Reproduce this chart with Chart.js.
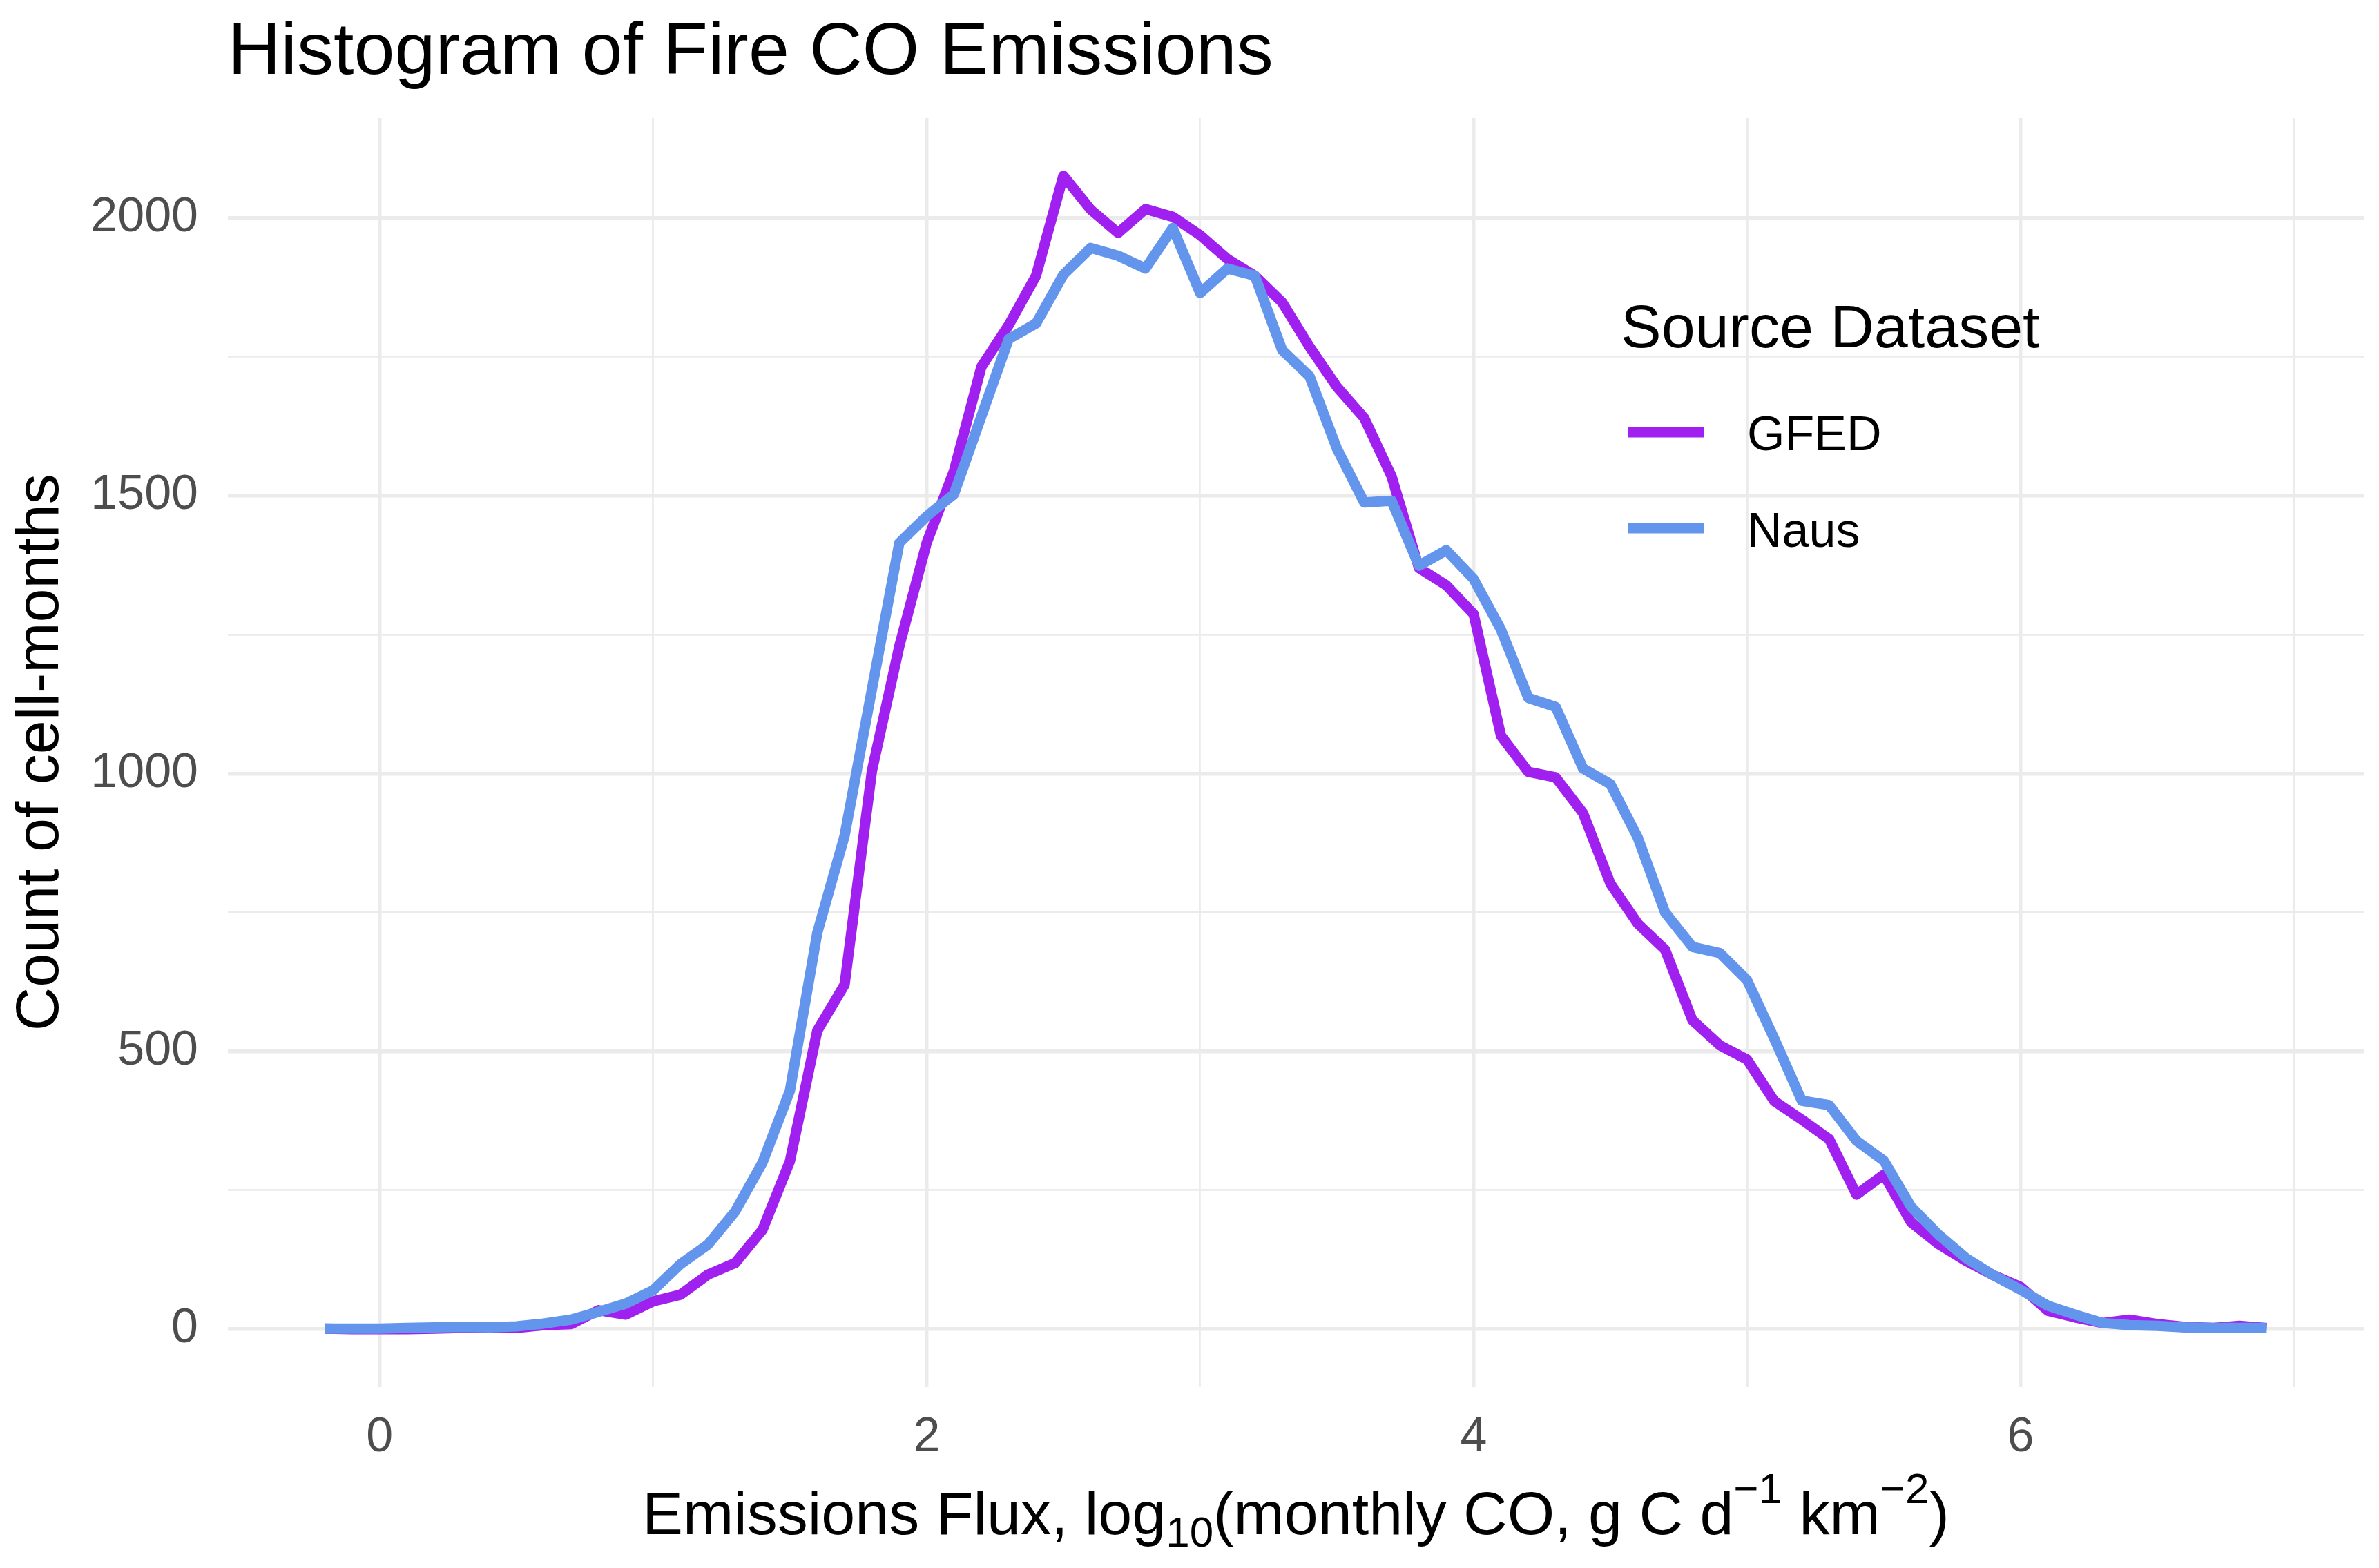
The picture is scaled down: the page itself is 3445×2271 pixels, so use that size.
<!DOCTYPE html>
<html>
<head>
<meta charset="utf-8">
<title>Histogram of Fire CO Emissions</title>
<script src="https://cdn.jsdelivr.net/npm/chart.js@4.4.1/dist/chart.umd.min.js"></script>
<style>
  html, body { margin: 0; padding: 0; background: #ffffff; }
  #wrap { width: 3445px; height: 2271px; }
</style>
</head>
<body>
<div id="wrap"><canvas id="fireHistogram" width="3445" height="2271"></canvas></div>
<script>
// bin centres, log10 flux (bin width 0.1)
const binCenters = [
  -0.2, -0.1, 0.0, 0.1, 0.2, 0.3, 0.4, 0.5, 0.6, 0.7, 0.8, 0.9,
  1.0, 1.1, 1.2, 1.3, 1.4, 1.5, 1.6, 1.7, 1.8, 1.9,
  2.0, 2.1, 2.2, 2.3, 2.4, 2.5, 2.6, 2.7, 2.8, 2.9,
  3.0, 3.1, 3.2, 3.3, 3.4, 3.5, 3.6, 3.7, 3.8, 3.9,
  4.0, 4.1, 4.2, 4.3, 4.4, 4.5, 4.6, 4.7, 4.8, 4.9,
  5.0, 5.1, 5.2, 5.3, 5.4, 5.5, 5.6, 5.7, 5.8, 5.9,
  6.0, 6.1, 6.2, 6.3, 6.4, 6.5, 6.6, 6.7, 6.8, 6.9,
];

const gfedCounts = [
  1, 0, 0, 0, 1, 2, 3, 2, 7, 9, 34, 26,
  50, 62, 98, 119, 179, 302, 537, 620, 1005, 1229,
  1415, 1545, 1732, 1807, 1896, 2076, 2015, 1973, 2016, 2002,
  1969, 1926, 1896, 1848, 1768, 1696, 1640, 1535, 1370, 1339,
  1287, 1068, 1003, 993, 929, 802, 730, 683, 556, 511,
  485, 410, 377, 342, 242, 278, 192, 153, 123, 97,
  76, 33, 21, 11, 17, 9, 4, 2, 6, 2,
];

const nausCounts = [
  1, 1, 1, 2, 3, 4, 3, 5, 10, 17, 31, 46,
  70, 117, 152, 212, 300, 429, 713, 888, 1152, 1415,
  1463, 1503, 1643, 1782, 1810, 1898, 1946, 1932, 1909, 1982,
  1865, 1909, 1896, 1762, 1715, 1585, 1488, 1491, 1374, 1402,
  1350, 1259, 1136, 1120, 1009, 981, 885, 750, 688, 677,
  628, 522, 411, 403, 339, 303, 220, 170, 128, 97,
  71, 42, 26, 11, 7, 6, 3, 2, 2, 2,
];

const seriesNames = ["GFED", "Naus"];
const seriesColors = ["#A020F0", "#6495ED"];

const xMajorTicks = [0, 2, 4, 6];
const xMinorTicks = [1, 3, 5, 7];
const yMajorTicks = [0, 500, 1000, 1500, 2000];
const yMinorTicks = [250, 750, 1250, 1750];

const chartTitle = "Histogram of Fire CO Emissions";
const yAxisTitle = "Count of cell-months";
const legendTitle = "Source Dataset";
const xAxisTitleParts = [
  { text: "Emissions Flux, log", shift: "base" },
  { text: "10", shift: "sub" },
  { text: "(monthly CO, g C d", shift: "base" },
  { text: "\u22121", shift: "sup" },
  { text: " km", shift: "base" },
  { text: "\u22122", shift: "sup" },
  { text: ")", shift: "base" },
];

const FONT = "'Liberation Sans', Arial, Helvetica, sans-serif";
const GRID_COLOR = "#EBEBEB";

/**
 * ============================================================================
 * Helper: line datasets from the bin arrays
 * ============================================================================
 */
function buildHistogramData() {
  const toPoints = counts => binCenters.map((x, i) => ({ x, y: counts[i] }));
  const seriesCounts = [gfedCounts, nausCounts];

  return {
    datasets: seriesNames.map((name, i) => ({
      label: name,
      data: toPoints(seriesCounts[i]),
      borderColor: seriesColors[i],
      backgroundColor: seriesColors[i],
      borderWidth: 15,
      borderJoinStyle: "round",
      borderCapStyle: "butt",
      pointRadius: 0,
      tension: 0,
      fill: false,
      order: seriesNames.length - i, // Naus drawn on top
    })),
  };
}

/**
 * ============================================================================
 * Plugin: title, x-axis title with sub/superscripts, legend
 * ============================================================================
 */
const annotationsPlugin = {
  id: "ggAnnotations",
  afterDraw(chart) {
    const { ctx, chartArea } = chart;
    ctx.save();
    ctx.fillStyle = "#000000";
    ctx.textAlign = "left";
    ctx.textBaseline = "alphabetic";

    // main title
    ctx.font = `106px ${FONT}`;
    ctx.fillText(chartTitle, chartArea.left, 107);

    // x-axis title
    const baseFont = `88px ${FONT}`;
    const smallFont = `62px ${FONT}`;
    const widths = xAxisTitleParts.map(p => {
      ctx.font = p.shift === "base" ? baseFont : smallFont;
      return ctx.measureText(p.text).width;
    });
    const total = widths.reduce((a, b) => a + b, 0);
    let x = (chartArea.left + chartArea.right) / 2 - total / 2;
    const baseline = 2222;
    xAxisTitleParts.forEach((p, i) => {
      ctx.font = p.shift === "base" ? baseFont : smallFont;
      const dy = p.shift === "sub" ? 18 : p.shift === "sup" ? -45 : 0;
      ctx.fillText(p.text, x, baseline + dy);
      x += widths[i];
    });

    // legend
    ctx.font = `88px ${FONT}`;
    ctx.fillText(legendTitle, 2347, 503);
    const keyY = [626, 765];
    const labelY = [652, 792];
    chart.data.datasets.forEach((ds, i) => {
      ctx.strokeStyle = ds.borderColor;
      ctx.lineWidth = 15;
      ctx.lineCap = "butt";
      ctx.beginPath();
      ctx.moveTo(2357, keyY[i]);
      ctx.lineTo(2468, keyY[i]);
      ctx.stroke();
      ctx.font = `70px ${FONT}`;
      ctx.fillText(ds.label, 2530, labelY[i]);
    });

    ctx.restore();
  },
};

/**
 * ============================================================================
 * Helper: chart config
 * ============================================================================
 */
function buildHistogramConfig(data) {
  const tickFont = { family: FONT, size: 70 };
  const setTicks = values => scale => {
    scale.ticks = values.slice().sort((a, b) => a - b).map(v => ({ value: v }));
  };

  return {
    type: "line",
    data,
    plugins: [annotationsPlugin],
    options: {
      responsive: false,
      devicePixelRatio: 1,
      animation: false,
      layout: { padding: { top: 171, right: 22, left: 0, bottom: 0 } },
      plugins: {
        legend: { display: false },
        title: { display: false },
        tooltip: { enabled: false },
      },
      scales: {
        x: {
          type: "linear",
          min: -0.555,
          max: 7.255,
          afterBuildTicks: setTicks(xMajorTicks.concat(xMinorTicks)),
          afterFit: scale => { scale.height = 262.5; },
          border: { display: false },
          grid: {
            color: GRID_COLOR,
            drawTicks: false,
            lineWidth: ctx => (xMajorTicks.includes(ctx.tick.value) ? 5.5 : 2.8),
          },
          ticks: {
            autoSkip: false,
            maxRotation: 0,
            padding: 32,
            color: "#4D4D4D",
            font: tickFont,
            callback: v => (xMajorTicks.includes(v) ? String(v) : ""),
          },
        },
        y: {
          type: "linear",
          min: -103.8,
          max: 2179.8,
          afterBuildTicks: setTicks(yMajorTicks.concat(yMinorTicks)),
          afterFit: scale => { scale.width = 330; },
          border: { display: false },
          grid: {
            color: GRID_COLOR,
            drawTicks: false,
            lineWidth: ctx => (yMajorTicks.includes(ctx.tick.value) ? 5.5 : 2.8),
          },
          ticks: {
            autoSkip: false,
            padding: 43,
            color: "#4D4D4D",
            font: tickFont,
            callback: v => (yMajorTicks.includes(v) ? String(v) : ""),
          },
          title: {
            display: true,
            text: yAxisTitle,
            color: "#000000",
            font: { family: FONT, size: 88 },
            padding: { top: 7, bottom: 0 },
          },
        },
      },
    },
  };
}

function renderFireHistogram() {
  const canvas = document.getElementById("fireHistogram");
  if (!canvas) return;
  const config = buildHistogramConfig(buildHistogramData());
  window.fireHistogramChart = new Chart(canvas.getContext("2d"), config);
}

renderFireHistogram();
</script>
</body>
</html>
